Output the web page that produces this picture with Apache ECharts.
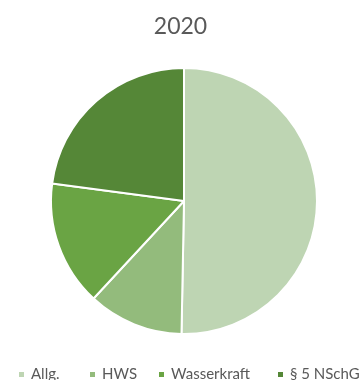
<!DOCTYPE html>
<html>
<head>
<meta charset="utf-8">
<script src="https://cdn.jsdelivr.net/npm/echarts@6/dist/echarts.min.js"></script>
<style>
  html, body { margin: 0; padding: 0; background: #fff; }
  #box { width: 361px; height: 380px; }
</style>
</head>
<body>
<div id="box"></div>
<script>
// Kategorien und Anteile (in %)
var categories = ['Allg.', 'HWS', 'Wasserkraft', '§ 5 NSchG'];
var values = [50.3, 11.6, 15.2, 22.9];
var colors = ['#bed5b3', '#93bb7c', '#6aa444', '#558737'];
// linke Kante der Legenden-Kästchen
var legendLeft = [17, 88, 157, 276];

var chart = echarts.init(document.getElementById('box'));

var option = {
    title: {
        text: '2020',
        left: 'center',
        top: 10,
        textStyle: {
            fontFamily: 'Lato',
            fontSize: 23,
            fontWeight: 'normal',
            color: '#595959'
        }
    },
    // eine Legende pro Eintrag, damit nichts umbricht
    legend: categories.map(function (name, i) {
        return {
            left: legendLeft[i],
            top: 367,
            width: 140,
            padding: 0,
            icon: 'rect',
            itemWidth: 7,
            itemHeight: 7,
            textStyle: {
                fontFamily: 'Lato',
                fontSize: 15,
                color: '#595959',
                padding: [2, 0, 0, 1]
            },
            data: [name]
        };
    }),
    series: [
        {
            type: 'pie',
            center: [184, 201],
            radius: [0, 133],
            startAngle: 90,
            clockwise: true,
            label: { show: false },
            labelLine: { show: false },
            itemStyle: { borderColor: '#fff', borderWidth: 2 },
            emphasis: { disabled: true },
            animation: false,
            data: categories.map(function (name, i) {
                return { name: name, value: values[i], itemStyle: { color: colors[i] } };
            })
        }
    ]
};

chart.setOption(option);
</script>
</body>
</html>
